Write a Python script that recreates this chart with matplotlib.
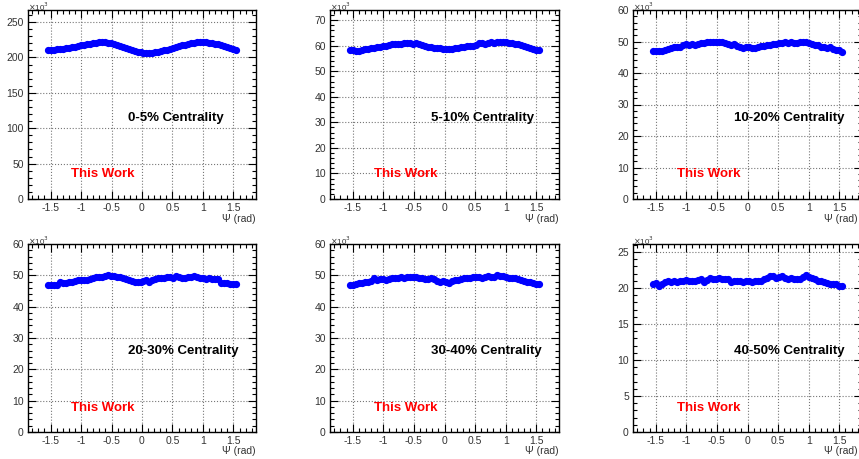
import numpy as np
import matplotlib
matplotlib.use("Agg")
from matplotlib import pyplot as plt
from matplotlib.ticker import MultipleLocator, AutoMinorLocator

# 64 bins in Psi from -pi/2 to pi/2 (bin centres)
psi = -np.pi / 2 + (np.arange(64) + 0.5) * np.pi / 64

# counts in units of 10^3
c_0_5 = [211, 210.5, 211, 211.5, 212, 212, 213, 213.5,
         214.5, 215, 216, 217, 217.5, 218.5, 219.5, 220.5,
         221, 221.5, 222, 221.5, 221, 220.5, 219, 218,
         216.5, 215, 213.5, 212, 210.5, 209, 208, 207,
         206.5, 206, 206, 206.5, 207, 208, 209, 210,
         211, 212.5, 213.5, 214.5, 216, 217, 218, 219.5,
         220.5, 221, 221.5, 222, 222, 221.5, 221, 220.5,
         219.5, 218.5, 217, 216, 214.5, 213, 212, 210.5]
c_5_10 = [58.3, 58.2, 57.8, 57.9, 58.5, 58.7, 58.9, 59.0,
          59.3, 59.5, 59.7, 59.8, 60.0, 60.3, 60.5, 60.6,
          60.8, 60.7, 60.9, 61.0, 61.0, 60.8, 60.9, 60.6,
          60.3, 60.0, 59.7, 59.5, 59.3, 59.2, 59.0, 58.9,
          58.7, 58.8, 58.8, 59.0, 59.1, 59.4, 59.6, 59.9,
          60.0, 60.1, 60.4, 60.9, 61.0, 60.8, 61.1, 61.3,
          61.2, 61.4, 61.5, 61.6, 61.3, 61.2, 61.0, 60.8,
          60.6, 60.2, 59.9, 59.5, 59.0, 58.6, 58.3, 58.5]
c_10_20 = [47.0, 46.9, 47.0, 47.1, 47.3, 47.6, 47.9, 48.2,
           48.4, 48.3, 48.8, 49.2, 49.0, 49.1, 48.9, 49.2,
           49.4, 49.6, 49.8, 49.9, 49.7, 50.0, 49.8, 49.9,
           49.6, 49.2, 48.8, 49.3, 48.6, 48.3, 48.0, 48.3,
           48.1, 47.8, 47.9, 48.3, 48.5, 48.6, 48.8, 49.0,
           49.2, 49.3, 49.5, 49.6, 49.8, 49.5, 49.7, 49.5,
           49.6, 49.8, 50.0, 49.8, 49.5, 49.3, 49.0, 48.8,
           48.1, 48.3, 48.0, 48.2, 47.5, 47.2, 47.3, 46.8]
c_20_30 = [46.8, 46.8, 46.9, 47.0, 48.0, 47.5, 47.4, 47.8,
           48.0, 48.3, 48.6, 48.5, 48.5, 48.6, 48.9, 49.1,
           49.4, 49.5, 49.6, 49.9, 50.0, 49.9, 49.8, 49.6,
           49.4, 49.0, 48.7, 48.6, 48.2, 48.0, 47.9, 48.0,
           48.3, 48.6, 47.8, 48.5, 48.8, 49.0, 49.1, 49.3,
           49.4, 49.5, 49.2, 49.9, 49.5, 49.3, 49.2, 49.4,
           49.6, 49.7, 49.5, 49.3, 49.0, 48.9, 49.0, 48.8,
           48.9, 48.8, 47.6, 47.5, 47.6, 47.2, 47.3, 47.2]
c_30_40 = [47.0, 46.8, 47.2, 47.6, 47.7, 48.0, 47.9, 48.1,
           49.0, 48.5, 48.7, 48.9, 48.5, 48.8, 49.0, 49.1,
           49.2, 49.4, 49.3, 49.5, 49.6, 49.5, 49.4, 49.3,
           49.2, 48.9, 48.8, 49.0, 48.7, 48.2, 48.0, 48.3,
           48.0, 47.7, 48.3, 48.5, 48.6, 48.8, 49.0, 49.2,
           49.3, 49.5, 49.6, 49.4, 49.3, 49.5, 49.8, 49.6,
           49.5, 50.0, 49.8, 49.9, 49.6, 49.3, 49.2, 49.0,
           48.7, 48.5, 48.3, 48.0, 47.8, 47.5, 47.3, 47.2]
c_40_50 = [20.5, 20.7, 20.2, 20.5, 20.8, 21.0, 20.8, 20.9,
           20.8, 21.0, 21.0, 21.1, 21.0, 20.9, 21.0, 21.1,
           21.2, 20.8, 21.1, 21.4, 21.2, 21.3, 21.4, 21.2,
           21.3, 21.2, 20.8, 21.0, 21.0, 20.9, 20.8, 20.9,
           20.9, 20.8, 21.0, 20.9, 21.0, 21.2, 21.4, 21.6,
           21.7, 21.4, 21.5, 21.6, 21.4, 21.3, 21.4, 21.2,
           21.2, 21.3, 21.5, 21.8, 21.5, 21.4, 21.2, 21.0,
           20.9, 20.8, 20.7, 20.6, 20.6, 20.5, 20.3, 20.2]

labels = ['0-5% Centrality', '5-10% Centrality', '10-20% Centrality',
          '20-30% Centrality', '30-40% Centrality', '40-50% Centrality']
series = [c_0_5, c_5_10, c_10_20, c_20_30, c_30_40, c_40_50]
ymax = [267, 74, 60, 60, 60, 26.1]
ystep = [50, 10, 10, 10, 10, 5]

W, H = 859, 459
# axes boxes in pixels: left, top, right, bottom
lefts = [28, 330, 633]
rights = [256, 559, 862]
rows = [(10, 199), (244, 432)]

plt.rcParams['font.family'] = ['Liberation Sans', 'DejaVu Sans']
fig = plt.figure(figsize=(W / 100, H / 100), dpi=100)

for k in range(6):
	r, c = divmod(k, 3)
	top, bot = rows[r]
	ax = fig.add_axes([lefts[c] / W, 1 - bot / H, (rights[c] - lefts[c]) / W, (bot - top) / H])
	ax.plot(psi, series[k], 'o', color='#0000ff', ms=4.2, mec='#0000ff', clip_on=False)
	ax.set_xlim(-1.87, 1.87)
	ax.set_ylim(0, ymax[k])
	ax.xaxis.set_major_locator(MultipleLocator(0.5))
	ax.xaxis.set_minor_locator(AutoMinorLocator(5))
	ax.yaxis.set_major_locator(MultipleLocator(ystep[k]))
	ax.yaxis.set_minor_locator(AutoMinorLocator(5))
	ax.xaxis.set_major_formatter(matplotlib.ticker.FuncFormatter(lambda v, p: '%g' % v))
	ax.tick_params(which='both', direction='in', top=True, right=True, labelsize=7.5,
		labelcolor='#333333', width=0.8)
	ax.tick_params(which='major', length=6, pad=3)
	ax.tick_params(which='minor', length=3)
	ax.grid(True, which='major', linestyle=':', color='#777777', linewidth=0.8)
	for s in ax.spines.values():
		s.set_linewidth(1.0)
	# exponent label sits just above the frame, kept inside the figure
	fig.text(lefts[c] / W, 1 - (top - 9.5) / H, r'$\times$10$^3$', fontsize=5.8,
		color='#333333', va='top', ha='left')
	xr = min(rights[c], W - 1)
	fig.text(xr / W, 1 - (bot + 14.5) / H, u'\u03a8 (rad)', fontsize=7.5,
		color='#333333', ha='right', va='top')
	ax.text(0.44, 0.43, labels[k], transform=ax.transAxes, fontsize=9.5,
		fontweight='bold', color='black', ha='left', va='center')
	ax.text(0.19, 0.13, 'This Work', transform=ax.transAxes, fontsize=9.5,
		fontweight='bold', color='#ff0000', ha='left', va='center')

fig.savefig('out.png', dpi=100)
